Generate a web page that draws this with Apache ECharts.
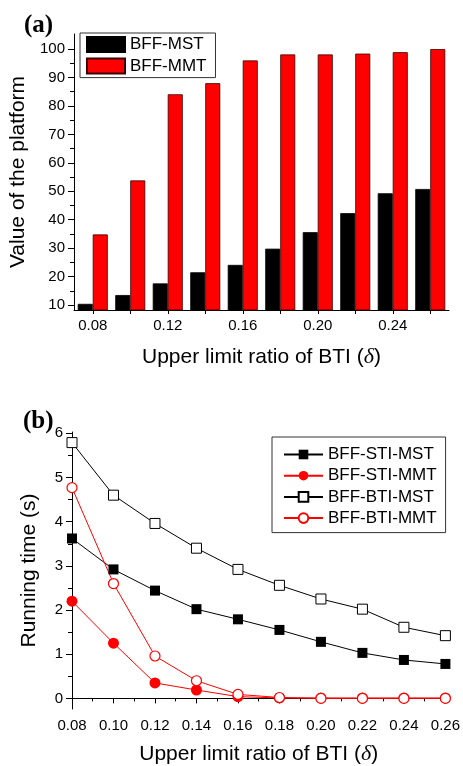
<!DOCTYPE html>
<html>
<head>
<meta charset="utf-8">
<script src="https://cdn.jsdelivr.net/npm/echarts@6/dist/echarts.min.js"></script>
<style>
html, body { margin: 0; padding: 0; background: #fff; }
#main { width: 463px; height: 766px; }
</style>
</head>
<body>
<div id="main"></div>
<script>
// (a) bar chart data
var ratioLabels = ['0.08', '0.10', '0.12', '0.14', '0.16', '0.18', '0.20', '0.22', '0.24', '0.26'];
var mstValue = [10.4, 13.5, 17.6, 21.5, 24.1, 29.8, 35.6, 42.3, 49.3, 50.8];
var mmtValue = [34.8, 53.8, 84.1, 88.0, 96.0, 98.1, 98.1, 98.4, 98.9, 100];
var barTicks = [10, 20, 30, 40, 50, 60, 70, 80, 90, 100];
var barMinorTicks = [15, 25, 35, 45, 55, 65, 75, 85, 95];

// (b) running time data
var deltas = [0.08, 0.10, 0.12, 0.14, 0.16, 0.18, 0.20, 0.22, 0.24, 0.26];
var stiMst = [3.62, 2.92, 2.44, 2.02, 1.79, 1.55, 1.28, 1.03, 0.87, 0.78];
var stiMmt = [2.20, 1.25, 0.35, 0.19, 0.04, 0.01, 0.01, 0.01, 0.01, 0.01];
var btiMst = [5.79, 4.60, 3.96, 3.40, 2.92, 2.56, 2.25, 2.02, 1.61, 1.42];
var btiMmt = [4.77, 2.60, 0.96, 0.40, 0.09, 0.02, 0.0, 0.0, 0.0, 0.0];
var timeTicks = [0, 1, 2, 3, 4, 5, 6];
var timeMinorTicks = [0.5, 1.5, 2.5, 3.5, 4.5, 5.5];

function pairs(vals) {
    return vals.map(function (v, i) { return [deltas[i], v]; });
}

var font = 'Liberation Sans';
var axisLine = { show: true, lineStyle: { color: '#000', width: 1 } };
var labelStyle = { color: '#000', fontFamily: font, fontSize: 15 };
var nameStyle = {
    color: '#000', fontFamily: font, fontSize: 21,
    rich: { d: { fontFamily: 'Liberation Serif', fontStyle: 'italic', fontSize: 22, color: '#000' } }
};

var myChart = echarts.init(document.getElementById('main'));
myChart.setOption({
    animation: false,
    title: [
        { text: '(a)', left: 19, top: 8, textStyle: { fontFamily: 'Liberation Serif', fontWeight: 'bold', fontSize: 25, color: '#000' } },
        { text: '(b)', left: 18, top: 404, textStyle: { fontFamily: 'Liberation Serif', fontWeight: 'bold', fontSize: 25, color: '#000' } }
    ],
    legend: [
        {
            data: ['BFF-MST', 'BFF-MMT'],
            orient: 'vertical',
            left: 80, top: 33,
            padding: [3, 9, 3, 6],
            itemGap: 4.6,
            itemWidth: 38, itemHeight: 15,
            itemTextGap: 6,
            icon: 'rect',
            borderColor: '#333', borderWidth: 1,
            textStyle: { color: '#000', fontFamily: font, fontSize: 17 }
        },
        {
            data: ['BFF-STI-MST', 'BFF-STI-MMT', 'BFF-BTI-MST', 'BFF-BTI-MMT'],
            orient: 'vertical',
            left: 272, top: 437,
            padding: [9, 9, 6, 11],
            itemGap: 4.2,
            itemWidth: 39, itemHeight: 12,
            itemTextGap: 5,
            borderColor: '#333', borderWidth: 1,
            textStyle: { color: '#000', fontFamily: font, fontSize: 17 }
        }
    ],
    grid: [
        { left: 73, top: 34, width: 376, height: 276 },
        { left: 72, top: 432, width: 376, height: 277 }
    ],
    xAxis: [
        {
            gridIndex: 0,
            type: 'category',
            data: ratioLabels,
            boundaryGap: true,
            axisLine: axisLine,
            axisTick: { show: true, alignWithLabel: true, interval: 0, length: 4, lineStyle: { color: '#000' } },
            axisLabel: Object.assign({ interval: 1, margin: 8 }, labelStyle),
            name: 'Upper limit ratio of BTI ({d|δ})',
            nameLocation: 'middle',
            nameGap: 36,
            nameTextStyle: nameStyle
        },
        {
            gridIndex: 1,
            type: 'value',
            min: 0.08, max: 0.26, interval: 0.02,
            axisLine: axisLine,
            axisTick: { show: true, length: 5, lineStyle: { color: '#000' } },
            minorTick: { show: true, splitNumber: 2, length: 3, lineStyle: { color: '#000' } },
            splitLine: { show: false },
            axisLabel: Object.assign({ margin: 9, formatter: function (v) { return v.toFixed(2); } }, labelStyle),
            name: 'Upper limit ratio of BTI ({d|δ})',
            nameLocation: 'middle',
            nameGap: 34,
            nameTextStyle: nameStyle
        }
    ],
    yAxis: [
        {
            gridIndex: 0,
            type: 'value',
            position: 'left',
            min: 8.24, max: 105.3,
            axisLine: axisLine,
            axisTick: { show: true, length: 6, customValues: barTicks, lineStyle: { color: '#000' } },
            axisLabel: Object.assign({ margin: 9, customValues: barTicks }, labelStyle),
            splitLine: { show: false },
            name: 'Value of the platform',
            nameLocation: 'middle',
            nameGap: 45,
            nameTextStyle: nameStyle
        },
        {
            gridIndex: 0,
            type: 'value',
            position: 'left',
            min: 8.24, max: 105.3,
            axisLine: { show: false },
            axisTick: { show: true, length: 4, customValues: barMinorTicks, lineStyle: { color: '#000' } },
            axisLabel: { show: false },
            splitLine: { show: false }
        },
        {
            gridIndex: 1,
            type: 'value',
            position: 'left',
            min: -0.24, max: 6.03,
            axisLine: axisLine,
            axisTick: { show: true, length: 6, customValues: timeTicks, lineStyle: { color: '#000' } },
            axisLabel: Object.assign({ margin: 9, customValues: timeTicks }, labelStyle),
            splitLine: { show: false },
            name: 'Running time (s)',
            nameLocation: 'middle',
            nameGap: 32,
            nameTextStyle: nameStyle
        },
        {
            gridIndex: 1,
            type: 'value',
            position: 'left',
            min: -0.24, max: 6.03,
            axisLine: { show: false },
            axisTick: { show: true, length: 4, customValues: timeMinorTicks, lineStyle: { color: '#000' } },
            axisLabel: { show: false },
            splitLine: { show: false }
        }
    ],
    series: [
        {
            name: 'BFF-MST', type: 'bar', xAxisIndex: 0, yAxisIndex: 0,
            data: mstValue, barWidth: 15, barGap: '0%',
            itemStyle: { color: '#000', borderColor: '#000', borderWidth: 0.8 }
        },
        {
            name: 'BFF-MMT', type: 'bar', xAxisIndex: 0, yAxisIndex: 0,
            data: mmtValue, barWidth: 15, barGap: '0%',
            itemStyle: { color: '#ff0000', borderColor: '#3a0000', borderWidth: 0.8 }
        },
        {
            name: 'BFF-STI-MST', type: 'line', xAxisIndex: 1, yAxisIndex: 2,
            data: pairs(stiMst), symbol: 'rect', symbolSize: 10,
            itemStyle: { color: '#000' },
            lineStyle: { color: '#000', width: 1 }
        },
        {
            name: 'BFF-STI-MMT', type: 'line', xAxisIndex: 1, yAxisIndex: 2,
            data: pairs(stiMmt), symbol: 'circle', symbolSize: 11,
            itemStyle: { color: '#ff0000' },
            lineStyle: { color: '#ff0000', width: 1 }
        },
        {
            name: 'BFF-BTI-MST', type: 'line', xAxisIndex: 1, yAxisIndex: 2,
            data: pairs(btiMst), symbol: 'rect', symbolSize: 10,
            itemStyle: { color: '#fff', borderColor: '#000', borderWidth: 1 },
            lineStyle: { color: '#000', width: 1 }
        },
        {
            name: 'BFF-BTI-MMT', type: 'line', xAxisIndex: 1, yAxisIndex: 2,
            data: pairs(btiMmt), symbol: 'circle', symbolSize: 10,
            itemStyle: { color: '#fff', borderColor: '#ff0000', borderWidth: 1.2 },
            lineStyle: { color: '#ff0000', width: 1 }
        }
    ]
});
</script>
</body>
</html>
